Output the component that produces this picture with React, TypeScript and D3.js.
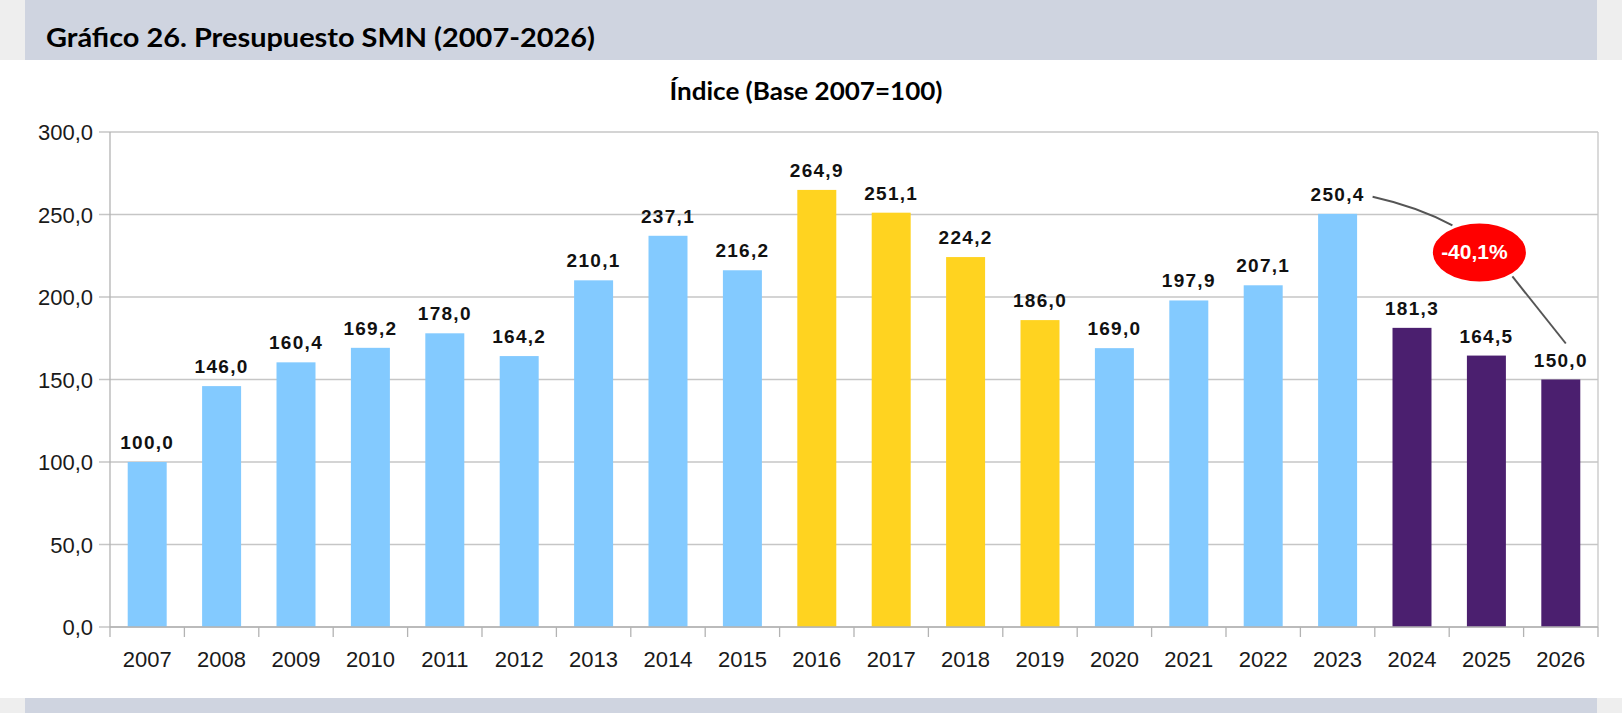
import { useEffect } from 'react'
import * as d3 from 'd3'

const years = ['2007', '2008', '2009', '2010', '2011', '2012', '2013', '2014', '2015', '2016',
  '2017', '2018', '2019', '2020', '2021', '2022', '2023', '2024', '2025', '2026']
const values = [100.0, 146.0, 160.4, 169.2, 178.0, 164.2, 210.1, 237.1, 216.2, 264.9,
  251.1, 224.2, 186.0, 169.0, 197.9, 207.1, 250.4, 181.3, 164.5, 150.0]
const groups = ['a', 'a', 'a', 'a', 'a', 'a', 'a', 'a', 'a', 'b',
  'b', 'b', 'b', 'a', 'a', 'a', 'a', 'c', 'c', 'c']
const yTicks = [0, 50, 100, 150, 200, 250, 300]

const colors: Record<string, string> = { a: '#83caff', b: '#ffd320', c: '#4b1f6f' }

const fmt = (v: number) => v.toFixed(1).replace('.', ',')

export default function App() {
  useEffect(() => {
    document.body.style.margin = '0'
  }, [])

  const W = 1622
  const H = 713
  const plot = { left: 110, right: 1598, top: 132, bottom: 627 }

  const x = d3.scaleBand<string>()
    .domain(years)
    .range([plot.left, plot.right])
    .paddingInner(0.476)
    .paddingOuter(0.238)

  const y = d3.scaleLinear().domain([0, 300]).range([plot.bottom, plot.top])

  const bw = x.bandwidth()
  const boundaries = d3.range(years.length + 1).map(i => plot.left + i * (plot.right - plot.left) / years.length)

  // annotation 2023 -> 2026
  const cx23 = (x('2023') ?? 0) + bw / 2
  const cx26 = (x('2026') ?? 0) + bw / 2
  const cx25 = (x('2025') ?? 0) + bw / 2
  const ex = cx25 - 7
  const ey = y(227)
  const p0: [number, number] = [cx23 + 35, y(250.4) - 17]
  const p1: [number, number] = [ex - 27, ey - 27]
  const p2: [number, number] = [ex + 33, ey + 24]
  const p3: [number, number] = [cx26 + 5, y(150) - 36]
  const curve = `M${p0[0]},${p0[1]} Q${p0[0] + 45},${p0[1] + 10} ${p1[0]},${p1[1]}`

  const sans = '"Liberation Sans", Arial, sans-serif'
  const titleFont = 'Lato, "Open Sans", sans-serif'

  return (
    <svg width={W} height={H} viewBox={`0 0 ${W} ${H}`}
      style={{ display: 'block', position: 'absolute', left: 0, top: 0, background: '#fff' }}>
      {/* page frame */}
      <rect x={0} y={0} width={25} height={60} fill="#eeeeee" />
      <rect x={1597} y={0} width={25} height={60} fill="#eeeeee" />
      <rect x={25} y={0} width={1572} height={60} fill="#cfd4e0" />
      <rect x={0} y={698} width={25} height={15} fill="#eeeeee" />
      <rect x={1597} y={698} width={25} height={15} fill="#eeeeee" />
      <rect x={25} y={698} width={1572} height={15} fill="#cfd4e0" />

      <text x={46} y={47} fontFamily={titleFont} fontWeight={700} fontSize={26}
        textLength={549} lengthAdjust="spacingAndGlyphs" fill="#000">
        Gráfico 26. Presupuesto SMN (2007-2026)
      </text>
      <text x={806} y={100} textAnchor="middle" fontFamily={titleFont} fontWeight={700} fontSize={24}
        textLength={273} lengthAdjust="spacingAndGlyphs" fill="#000">
        Índice (Base 2007=100)
      </text>

      {/* grid */}
      {yTicks.map(t => (
        <g key={t}>
          <line x1={plot.left - 11} x2={plot.right} y1={y(t)} y2={y(t)} stroke="#c6c6c6" strokeWidth={1.3} />
          <text x={93} y={y(t) + 8} textAnchor="end" fontFamily={sans} fontSize={22} fill="#1a1a1a">
            {fmt(t)}
          </text>
        </g>
      ))}
      <line x1={plot.left} x2={plot.left} y1={plot.top} y2={plot.bottom} stroke="#b3b3b3" strokeWidth={1.3} />
      <line x1={plot.right} x2={plot.right} y1={plot.top} y2={plot.bottom} stroke="#c6c6c6" strokeWidth={1.3} />

      {/* bars */}
      {years.map((yr, i) => (
        <rect key={yr} x={x(yr)} y={y(values[i])} width={bw} height={y(0) - y(values[i])}
          fill={colors[groups[i]]} />
      ))}

      {/* x axis */}
      <line x1={plot.left} x2={plot.right} y1={plot.bottom} y2={plot.bottom} stroke="#b3b3b3" strokeWidth={1.3} />
      {boundaries.map((b, i) => (
        <line key={i} x1={b} x2={b} y1={plot.bottom} y2={plot.bottom + 10} stroke="#b3b3b3" strokeWidth={1.3} />
      ))}
      {years.map(yr => (
        <text key={yr} x={(x(yr) ?? 0) + bw / 2} y={667} textAnchor="middle"
          fontFamily={sans} fontSize={22} fill="#1a1a1a">
          {yr}
        </text>
      ))}

      {/* value labels */}
      {years.map((yr, i) => (
        <text key={yr} x={(x(yr) ?? 0) + bw / 2} y={y(values[i]) - 13} textAnchor="middle"
          fontFamily={sans} fontWeight={700} fontSize={19} letterSpacing={1.3} fill="#111">
          {fmt(values[i])}
        </text>
      ))}

      {/* annotation */}
      <path d={curve} fill="none" stroke="#555" strokeWidth={2} />
      <line x1={p2[0]} y1={p2[1]} x2={p3[0]} y2={p3[1]} stroke="#555" strokeWidth={2} />
      <ellipse cx={ex} cy={ey} rx={46.5} ry={29} fill="#ff0000" />
      <text x={ex - 5} y={ey + 7} textAnchor="middle" fontFamily={sans} fontWeight={700}
        fontSize={21} fill="#fff">
        -40,1%
      </text>
    </svg>
  )
}
